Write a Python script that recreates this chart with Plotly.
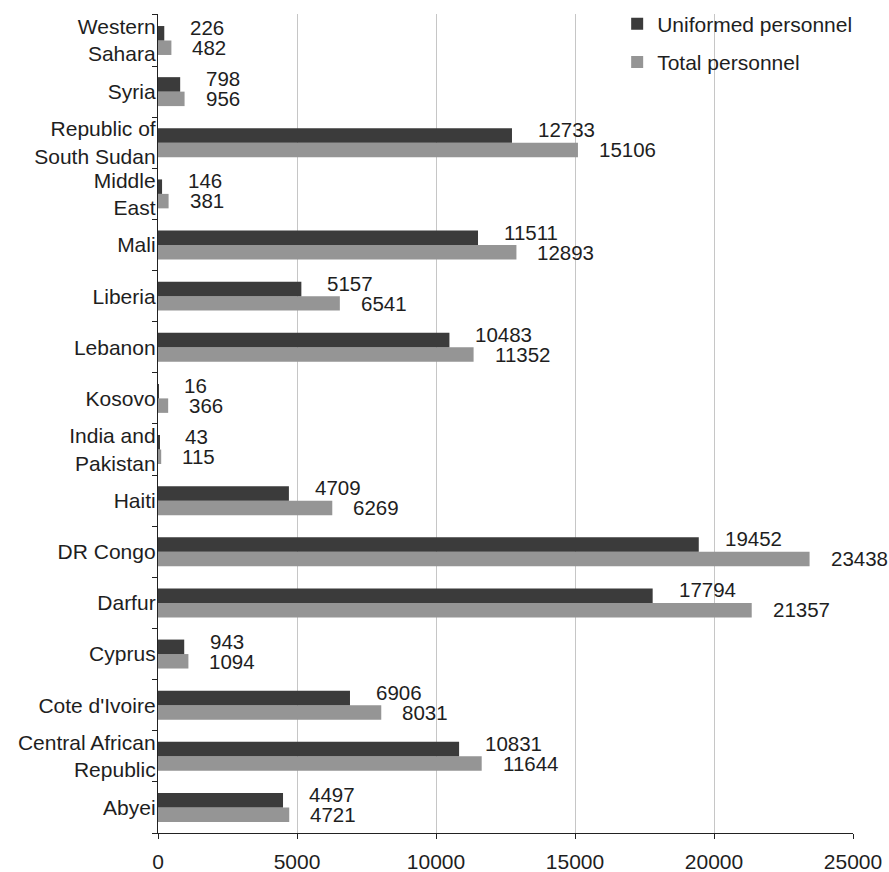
import plotly.graph_objects as go

categories = ["Abyei", "Central African<br>Republic", "Cote d'Ivoire", "Cyprus", "Darfur",
              "DR Congo", "Haiti", "India and<br>Pakistan", "Kosovo", "Lebanon", "Liberia",
              "Mali", "Middle<br>East", "Republic of<br>South Sudan", "Syria", "Western<br>Sahara"]
uniformed = [4497, 10831, 6906, 943, 17794, 19452, 4709, 43, 16, 10483, 5157, 11511, 146, 12733, 798, 226]
total = [4721, 11644, 8031, 1094, 21357, 23438, 6269, 115, 366, 11352, 6541, 12893, 381, 15106, 956, 482]
x_ticks = [0, 5000, 10000, 15000, 20000, 25000]

FONT = "Liberation Sans, Arial, Helvetica, sans-serif"
DARK = "#3b3b3b"
LIGHT = "#959595"
TXT = "#1e1e1e"

fig = go.Figure()
fig.add_trace(go.Bar(y=categories, x=total, orientation="h", name="Total personnel",
                     legendgroup="t", legendrank=2, marker=dict(color=LIGHT, line=dict(width=0))))
fig.add_trace(go.Bar(y=categories, x=uniformed, orientation="h", name="Uniformed personnel",
                     legendgroup="u", legendrank=1, marker=dict(color=DARK, line=dict(width=0))))

annotations = []
for c, u, t in zip(categories, uniformed, total):
    annotations.append(dict(x=u, y=c, xref="x", yref="y", text=str(u), showarrow=False,
                            xanchor="left", yanchor="middle", xshift=24, yshift=13,
                            font=dict(family=FONT, size=20.5, color=TXT)))
    annotations.append(dict(x=t, y=c, xref="x", yref="y", text=str(t), showarrow=False,
                            xanchor="left", yanchor="middle", xshift=19, yshift=-7,
                            font=dict(family=FONT, size=20.5, color=TXT)))

fig.update_layout(
    width=889, height=872,
    margin=dict(l=158, r=36, t=14, b=39, autoexpand=False),
    paper_bgcolor="white", plot_bgcolor="white",
    barmode="group", bargap=0.434, bargroupgap=0,
    font=dict(family=FONT, size=21, color=TXT),
    showlegend=True,
    legend=dict(x=1.006, xanchor="right", y=1.0127, yanchor="top", traceorder="grouped",
                bgcolor="rgba(0,0,0,0)", font=dict(family=FONT, size=21, color=TXT),
                itemwidth=30, tracegroupgap=8),
    annotations=annotations,
    xaxis=dict(range=[0, 25000], tickvals=x_ticks, ticktext=[str(v) for v in x_ticks],
               showgrid=True, gridcolor="#c6c6c6", gridwidth=1.3,
               showline=True, linecolor="#222222", linewidth=1.3,
               ticks="outside", ticklen=5, tickcolor="#222222", tickwidth=1.3,
               ticklabelstandoff=5,
               zeroline=False, fixedrange=True, automargin=False,
               tickfont=dict(family=FONT, size=21, color=TXT)),
    yaxis=dict(type="category", categoryorder="array", categoryarray=categories,
               showgrid=False, showline=True, linecolor="#222222", linewidth=1.3,
               ticks="outside", ticklen=5, tickcolor="#222222", tickwidth=1.3,
               tickson="boundaries", ticklabelstandoff=-3, fixedrange=True, automargin=False,
               tickfont=dict(family=FONT, size=21, color=TXT)),
)

fig.write_html("out.html")
